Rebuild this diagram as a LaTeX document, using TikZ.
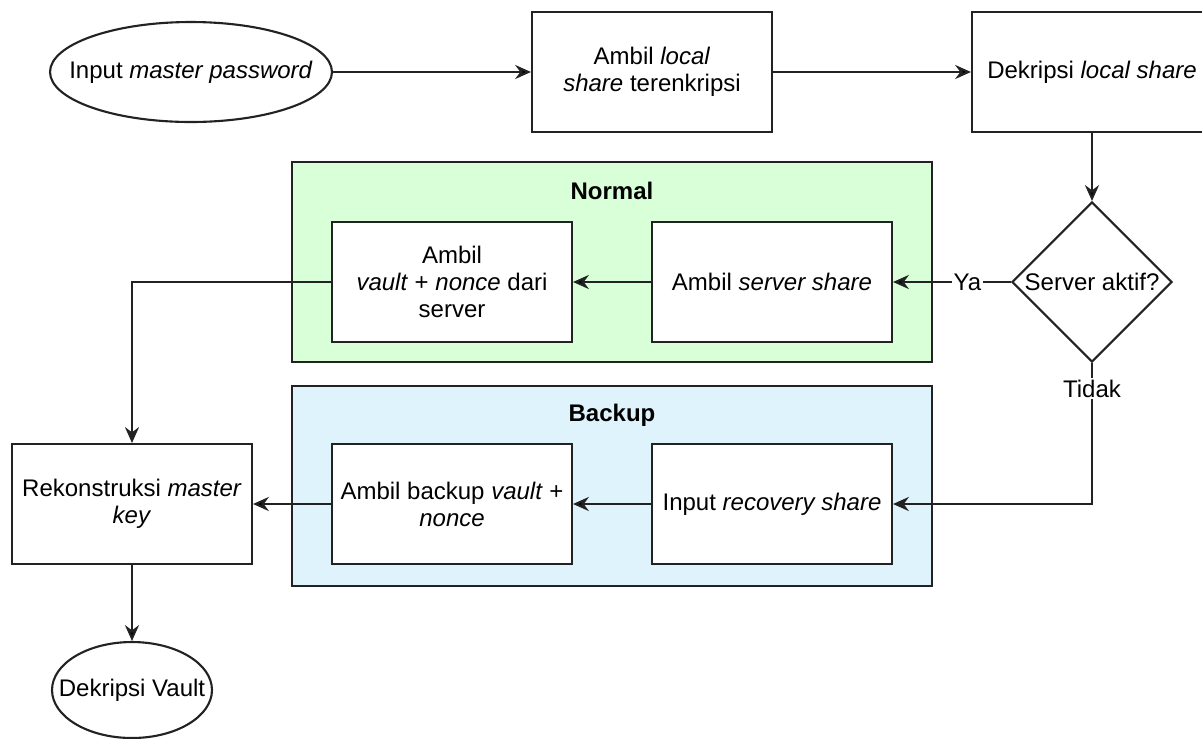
\documentclass[tikz,border=0pt]{standalone}
\usepackage{fontspec}
\setmainfont{Liberation Sans}
\usepackage{tikz}
\usetikzlibrary{arrows.meta,positioning,shapes.geometric}
\definecolor{normalgreen}{RGB}{217,255,217}
\definecolor{backupblue}{RGB}{222,243,252}
\definecolor{linegray}{RGB}{34,34,34}
\tikzset{font=\fontsize{13.66}{15.3}\selectfont}
\tikzstyle{proc}=[rectangle,draw=linegray,fill=white,line width=1.2pt,minimum width=4.8cm,minimum height=2.4cm,align=center,inner sep=2pt]
\tikzstyle{term}=[ellipse,draw=linegray,fill=white,line width=1.2pt,inner sep=0pt]
\tikzstyle{dec}=[diamond,draw=linegray,fill=white,line width=1.2pt,minimum width=3.2cm,minimum height=3.2cm,inner sep=0pt]
\tikzstyle{grp}=[rectangle,draw=linegray,line width=1.2pt,minimum width=12.8cm,minimum height=4cm]
\tikzstyle{lbl}=[fill=white,inner sep=1pt]

\begin{document}
\begin{tikzpicture}[x=0.02cm,y=-0.02cm,>={Stealth[length=9pt,width=8pt]}]
\useasboundingbox (0,0) rectangle (1202,738);
\node[grp,fill=normalgreen] (N) at (612,262) {};
\node (N1) at (612,191) {\textbf{Normal}};
\node[grp,fill=backupblue] (K) at (612,486) {};
\node (K1) at (612,415) {\textbf{Backup}};
\node[term,minimum width=5.64cm,minimum height=2cm] (A) at (191,72) {\makebox[0pt]{Input \textit{master password}}};
\node[proc] (B) at (652,72) {Ambil \textit{local}\\\textit{share} terenkripsi};
\node[proc] (C) at (1092,72) {Dekripsi \textit{local share}};
\node[dec] (D) at (1092,282) {\makebox[0pt]{Server aktif?}};
\node[proc] (E) at (772,282) {Ambil \textit{server share}};
\node[proc] (F) at (452,282) {Ambil\\\textit{vault} + \textit{nonce} dari\\server};
\node[proc] (G) at (772,504) {Input \textit{recovery share}};
\node[proc] (H) at (452,504) {Ambil backup \textit{vault} +\\\textit{nonce}};
\node[proc] (I) at (132,504) {Rekonstruksi \textit{master}\\\textit{key}};
\node[term,minimum width=3.2cm,minimum height=1.92cm] (J) at (132,690) {\makebox[0pt]{Dekripsi Vault}};
\path[->,draw=linegray,line width=1.2pt]
(A) edge (B)
(B) edge (C)
(C) edge (D)
(D) edge node[lbl,pos=0.37] {Ya} (E)
(E) edge (F)
(G) edge (H)
(H) edge (I)
(I) edge (J);
\draw[->,draw=linegray,line width=1.2pt] (F) -| (I);
\draw[->,draw=linegray,line width=1.2pt] (D) |- node[lbl,pos=0.09] {Tidak} (G);
\end{tikzpicture}
\end{document}
